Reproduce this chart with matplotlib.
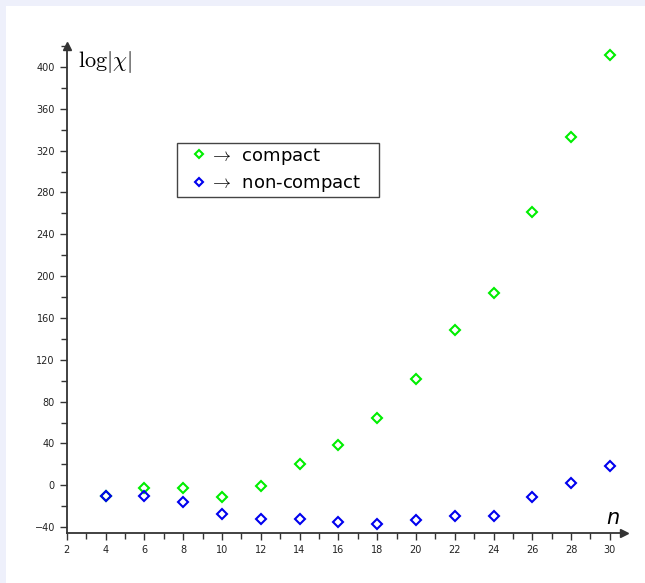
import matplotlib.pyplot as plt
from matplotlib.ticker import MultipleLocator

# values
n_vals = [4, 6, 8, 10, 12, 14, 16, 18, 20, 22, 24, 26, 28, 30]
compact = [-10, -2.5, -3, -10.8, -0.6, 20, 38.3, 64, 102, 148.4, 183.5, 261, 333, 411.5]
non_compact = [-10, -10, -15.6, -27.7, -32.2, -32, -35.4, -37, -33.5, -29, -29, -11.2, 2.2, 18.2]

x_ticks = list(range(2, 31, 2))
y_ticks = list(range(-40, 401, 40))

plt.rcParams['mathtext.fontset'] = 'cm'

fig = plt.figure(figsize=(6.45, 5.83), dpi=100)
fig.patch.set_facecolor('#eef0fb')
# white page area
fig.patches.append(plt.Rectangle((6/645, 0), 1, 1 - 6/583, transform=fig.transFigure,
                                 facecolor='white', edgecolor='none', zorder=-5))

ax = fig.add_axes([66.7/645, 49.6/583, 557.75/645, 487.4/583])
ax.set_facecolor('none')
ax.set_xlim(2, 30.75)
ax.set_ylim(-46, 420)

for s in ['top', 'right']:
    ax.spines[s].set_visible(False)
for s in ['left', 'bottom']:
    ax.spines[s].set_color('#333333')
    ax.spines[s].set_linewidth(1.3)

# arrow heads
ax.plot(1, 0, '>', color='#333333', markersize=6, transform=ax.transAxes, clip_on=False)
ax.plot(0, 1, '^', color='#333333', markersize=6, transform=ax.transAxes, clip_on=False)

ax.set_xticks(x_ticks)
ax.set_yticks(y_ticks)
ax.xaxis.set_minor_locator(MultipleLocator(1))
ax.yaxis.set_minor_locator(MultipleLocator(20))
ax.tick_params(which='both', direction='out', color='#333333', width=1, labelsize=7,
               labelcolor='#222222')
ax.tick_params(which='major', length=5)
ax.tick_params(which='minor', length=4)

ax.plot(n_vals, compact, 'D', markersize=5, markerfacecolor='none', markeredgecolor='#00ee00',
        markeredgewidth=1.5, clip_on=False, label=r'$\rightarrow\,$ compact')
ax.plot(n_vals, non_compact, 'D', markersize=5, markerfacecolor='none', markeredgecolor='#0000ee',
        markeredgewidth=1.5, clip_on=False, label=r'$\rightarrow\,$ non-compact')

ax.text(2.58, 405, r'$\log|\chi|$', fontsize=16, ha='left', va='center')
ax.text(30.16, -31, 'n', fontsize=15, style='italic', ha='center', va='center')

leg = ax.legend(loc='upper left',
                bbox_to_anchor=(110/557.75, (533.4-143)/487.4 - 0.01, 202/557.75, 0.01),
                mode='expand', borderaxespad=0,
                fontsize=13, markerscale=0.8, handlelength=2.14, handletextpad=-0.5,
                borderpad=0.15, labelspacing=0.35, fancybox=False, framealpha=1,
                edgecolor='#444444')
leg.get_frame().set_linewidth(1)

fig.savefig('out.png', dpi=100, facecolor=fig.get_facecolor())
